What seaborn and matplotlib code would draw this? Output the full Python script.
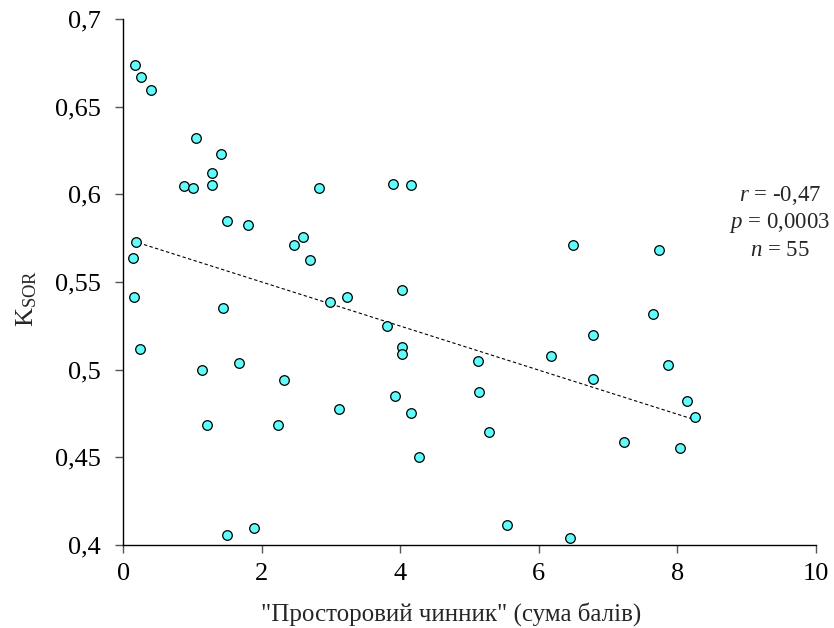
import numpy as np
import pandas as pd
import matplotlib
matplotlib.use("Agg")
import matplotlib.pyplot as plt
import seaborn as sns

# Data
x_score = [0.17, 0.25, 0.40, 1.05, 1.41, 1.28, 1.28, 0.87, 1.01, 2.83,
           3.90, 4.15, 1.49, 1.80, 0.19, 0.14, 2.46, 2.59, 2.69, 6.49,
           7.74, 0.16, 1.44, 2.98, 3.23, 4.03, 3.80, 7.64, 6.78, 0.24,
           4.03, 4.03, 5.12, 6.17, 7.87, 1.13, 1.67, 2.32, 6.78, 3.92,
           5.13, 3.12, 4.15, 8.14, 8.25, 1.21, 2.24, 5.28, 7.23, 8.03,
           4.27, 1.50, 1.89, 5.54, 6.45]
k_sor = [0.674, 0.667, 0.6595, 0.632, 0.623, 0.612, 0.6056, 0.605, 0.6037, 0.6034,
         0.6057, 0.6053, 0.585, 0.5827, 0.573, 0.5635, 0.5712, 0.5755, 0.5624, 0.5711,
         0.5681, 0.5412, 0.5351, 0.5384, 0.5412, 0.5454, 0.5249, 0.5317, 0.5199, 0.5119,
         0.5127, 0.5088, 0.5049, 0.5079, 0.5029, 0.4998, 0.5036, 0.4939, 0.4949, 0.4851,
         0.4871, 0.4775, 0.4751, 0.4821, 0.473, 0.4686, 0.4684, 0.4645, 0.4587, 0.4552,
         0.4503, 0.4058, 0.4098, 0.4114, 0.4038]
x_ticks = [0, 2, 4, 6, 8, 10]
x_ticklabels = ["0", "2", "4", "6", "8", "10"]
y_ticks = [0.4, 0.45, 0.5, 0.55, 0.6, 0.65, 0.7]
y_ticklabels = ["0,4", "0,45", "0,5", "0,55", "0,6", "0,65", "0,7"]
stats_lines = ["$r$ = -0,47", "$p$ = 0,0003", "$n$ = 55"]
x_label = '"Просторовий чинник" (сума балів)'
y_label = r"K$_{\mathrm{SOR}}$"

df = pd.DataFrame({"x": x_score, "y": k_sor})

sns.set_style("ticks")
plt.rcParams["font.family"] = ["Liberation Serif", "DejaVu Serif"]
plt.rcParams["mathtext.fontset"] = "custom"
plt.rcParams["mathtext.rm"] = "Liberation Serif"
plt.rcParams["mathtext.it"] = "Liberation Serif:italic"

fig = plt.figure(figsize=(8.34, 6.28), dpi=100)
ax = fig.add_axes([123.3 / 834, 1 - 545 / 628, (816 - 123.3) / 834, (545 - 19) / 628])

sns.regplot(data=df, x="x", y="y", scatter=False, ci=None, ax=ax,
            line_kws=dict(color="black", lw=0.8, ls=(0, (3, 2.2))))
sns.scatterplot(data=df, x="x", y="y", ax=ax, s=48, color="#60fbfb",
                edgecolor="black", linewidth=0.9, zorder=3)

ax.set_xlim(0, 10)
ax.set_ylim(0.4, 0.7)
ax.set_xticks(x_ticks)
ax.set_xticklabels(x_ticklabels)
ax.set_yticks(y_ticks)
ax.set_yticklabels(y_ticklabels)
ax.tick_params(axis="both", labelsize=19, length=6, width=1, color="#555555",
               direction="out", labelcolor="black")
ax.tick_params(axis="y", pad=10.5)
ax.tick_params(axis="x", pad=7)
for s in ["top", "right"]:
    ax.spines[s].set_visible(False)
for s in ["left", "bottom"]:
    ax.spines[s].set_color("black")
    ax.spines[s].set_linewidth(1.0)
ax.set_xlabel(x_label, fontsize=18)
ax.xaxis.set_label_coords(0.473, -0.108)
ax.set_ylabel(y_label, fontsize=19)
ax.yaxis.set_label_coords(-0.122, 0.468)

for i, line in enumerate(stats_lines):
    ax.text(9.48, 0.5996 - i * 0.0157, line, ha="center", va="center",
            fontsize=16.5, clip_on=False)

fig.savefig("out.png", dpi=100)
